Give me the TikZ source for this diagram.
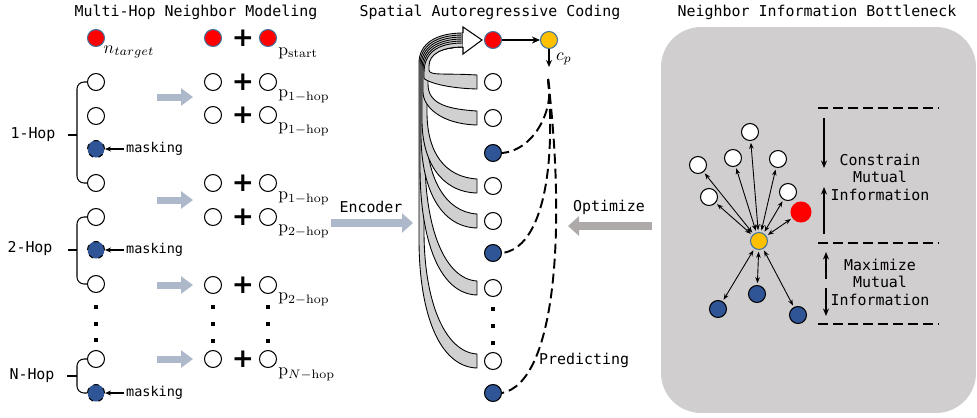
\documentclass[tikz,border=0pt]{standalone}
\usepackage{amsmath}
\usepackage{fontspec}
\setmonofont{DejaVu Sans Mono}
\setsansfont{DejaVu Sans}
\usepackage{tikz}
\usetikzlibrary{arrows.meta}

\definecolor{nred}{HTML}{FF0000}
\definecolor{nyellow}{HTML}{FFC000}
\definecolor{nblue}{HTML}{2F5597}
\definecolor{edgeblue}{HTML}{41719C}
\definecolor{panelgray}{HTML}{D0CECE}
\definecolor{bandgray}{HTML}{D0D0D0}
\definecolor{encblue}{HTML}{ADB9CA}
\definecolor{optgray}{HTML}{AEAAAA}

\begin{document}
\begin{tikzpicture}[x=0.02cm,y=-0.02cm]
		\tikzstyle{lbl} = [font=\fontsize{8.5}{10}\selectfont\ttfamily, inner sep=1pt]
		\tikzstyle{msk} = [font=\fontsize{7.7}{9}\selectfont\ttfamily, inner sep=1pt, anchor=west]
		\tikzstyle{wn} = [draw, circle, fill=white, minimum size=0.34cm, inner sep=0pt, line width=0.6pt]
		\tikzstyle{rn} = [wn, fill=nred, draw=edgeblue]
		\tikzstyle{yn} = [wn, fill=nyellow, draw=edgeblue]
		\tikzstyle{bn} = [wn, fill=nblue]
		\tikzstyle{mn} = [bn, dashed]
		\tikzstyle{plus} = [font=\sffamily\bfseries\fontsize{15}{15}\selectfont, inner sep=0pt]
		\tikzstyle{sq} = [fill, rectangle, minimum size=0.08cm, inner sep=0pt]
		\tikzstyle{fat} = [line width=0.14cm, encblue, -{Triangle[length=0.24cm,width=0.34cm]}]
		\tikzstyle{band} = [draw, fill=bandgray, line width=0.5pt]
		\tikzstyle{bi} = [{Stealth[length=0.12cm,width=0.09cm]}-{Stealth[length=0.12cm,width=0.09cm]}, line width=0.5pt, shorten <=1pt, shorten >=1pt]
		\tikzstyle{vert} = [-{Stealth[length=0.15cm,width=0.12cm]}, line width=1pt]
		\tikzstyle{dline} = [line width=1.1pt, dash pattern=on 0.2cm off 0.1cm]
		\useasboundingbox (0,0) rectangle (977,417);

		% titles
		\node [lbl] (t1) at (196,12) {Multi-Hop Neighbor Modeling};
		\node [lbl] (t2) at (490,12) {Spatial Autoregressive Coding};
		\node [lbl] (t3) at (817,12) {Neighbor Information Bottleneck};

		% multi-hop neighbours
		\node [rn] (l0) at (96,38) {};
		\node (nt) at (129,52) {$n_{target}$};
		\node [wn] (l1) at (96,82) {};
		\node [wn] (l2) at (96,116) {};
		\node [mn] (l3) at (96,149) {};
		\node [wn] (l4) at (96,183) {};
		\node [wn] (l5) at (96,217) {};
		\node [mn] (l6) at (96,250) {};
		\node [wn] (l7) at (96,284) {};
		\node [sq] (ld1) at (96,307) {};
		\node [sq] (ld2) at (96,324) {};
		\node [sq] (ld3) at (96,340) {};
		\node [wn] (l8) at (96,359) {};
		\node [mn] (l9) at (96,393) {};

		\node [msk] (m1) at (124,149) {masking};
		\node [msk] (m2) at (124,250) {masking};
		\node [msk] (m3) at (124,393) {masking};
		\draw[-{Stealth[length=0.12cm,width=0.1cm]}, line width=0.7pt] (m1) -- (l3);
		\draw[-{Stealth[length=0.12cm,width=0.1cm]}, line width=0.7pt] (m2) -- (l6);
		\draw[-{Stealth[length=0.12cm,width=0.1cm]}, line width=0.7pt] (m3) -- (l9);

		\node [lbl] (h1) at (33,135) {1-Hop};
		\node [lbl] (h2) at (30,249) {2-Hop};
		\node [lbl] (h3) at (32,376) {N-Hop};
		\draw[rounded corners=4, line width=0.6pt] (l1.west) -- (77,82) -- (77,183) -- (l4.west);
		\draw[line width=0.6pt] (77,135) -- (68,135);
		\draw[rounded corners=4, line width=0.6pt] (l5.west) -- (77,217) -- (77,284) -- (l7.west);
		\draw[line width=0.6pt] (77,250) -- (68,250);
		\draw[rounded corners=4, line width=0.6pt] (l8.west) -- (77,359) -- (77,393) -- (l9.west);
		\draw[line width=1.2pt] (77,376) -- (67,376);

		% pairs
		\node [rn] (a0) at (213,38) {};
		\node [plus] (s0) at (243,38) {+};
		\node [rn] (b0) at (268,38) {};
		\node [anchor=west, inner sep=0pt] (p0) at (278,53) {$\mathrm{p}_{\mathrm{start}}$};
		\node [wn] (a1) at (213,82) {};
		\node [plus] (s1) at (243,82) {+};
		\node [wn] (b1) at (268,82) {};
		\node [anchor=west, inner sep=0pt] (p1) at (278,96) {$\mathrm{p}_{1-\mathrm{hop}}$};
		\node [wn] (a2) at (213,115) {};
		\node [plus] (s2) at (243,115) {+};
		\node [wn] (b2) at (268,115) {};
		\node [anchor=west, inner sep=0pt] (p2) at (278,129) {$\mathrm{p}_{1-\mathrm{hop}}$};
		\node [wn] (a3) at (213,183) {};
		\node [plus] (s3) at (243,183) {+};
		\node [wn] (b3) at (268,183) {};
		\node [anchor=west, inner sep=0pt] (p3) at (278,198) {$\mathrm{p}_{1-\mathrm{hop}}$};
		\node [wn] (a4) at (213,217) {};
		\node [plus] (s4) at (243,217) {+};
		\node [wn] (b4) at (268,217) {};
		\node [anchor=west, inner sep=0pt] (p4) at (278,231) {$\mathrm{p}_{2-\mathrm{hop}}$};
		\node [wn] (a5) at (213,285) {};
		\node [plus] (s5) at (243,285) {+};
		\node [wn] (b5) at (268,285) {};
		\node [anchor=west, inner sep=0pt] (p5) at (278,299) {$\mathrm{p}_{2-\mathrm{hop}}$};
		\node [sq] (ad1) at (213,307) {};
		\node [sq] (ad2) at (213,324) {};
		\node [sq] (ad3) at (213,341) {};
		\node [sq] (bd1) at (268,307) {};
		\node [sq] (bd2) at (268,324) {};
		\node [sq] (bd3) at (268,341) {};
		\node [wn] (a6) at (213,359) {};
		\node [plus] (s6) at (243,359) {+};
		\node [wn] (b6) at (268,359) {};
		\node [anchor=west, inner sep=0pt] (p6) at (278,374) {$\mathrm{p}_{N-\mathrm{hop}}$};

		\coordinate (g1) at (157,97);  \coordinate (g1e) at (193,97);
		\coordinate (g2) at (157,200); \coordinate (g2e) at (193,200);
		\coordinate (g3) at (157,285); \coordinate (g3e) at (193,285);
		\coordinate (g4) at (157,359); \coordinate (g4e) at (193,359);
		\draw[fat] (g1) -- (g1e);
		\draw[fat] (g2) -- (g2e);
		\draw[fat] (g3) -- (g3e);
		\draw[fat] (g4) -- (g4e);

		% encoder / optimize
		\node [lbl] (enc) at (371,207) {Encoder};
		\coordinate (e1) at (331,223); \coordinate (e2) at (413,223);
		\draw[line width=0.16cm, encblue, -{Triangle[length=0.22cm,width=0.38cm]}] (e1) -- (e2);
		\node [lbl] (opt) at (609,207) {Optimize};
		\coordinate (o1) at (652,226); \coordinate (o2) at (568,226);
		\draw[line width=0.16cm, optgray, -{Triangle[length=0.22cm,width=0.38cm]}] (o1) -- (o2);

		% curved bands into the target
		\draw[band] (477,354) .. controls (445,352) and (424,302) .. (424,231) -- (424,66) .. controls (424,54) and (442,47) .. (463,47) -- (463,33) .. controls (437,33) and (419,43) .. (419,63) -- (419,239) .. controls (419,315) and (440,367) .. (477,368) -- cycle;
		\draw[band] (477,281) .. controls (445,279) and (425,229) .. (425,158) -- (425,66) .. controls (425,54) and (442,47) .. (463,47) -- (463,35) .. controls (437,35) and (420,45) .. (420,65) -- (420,166) .. controls (420,242) and (440,294) .. (477,295) -- cycle;
		\draw[band] (477,214) .. controls (445,212) and (426,178) .. (426,126) -- (426,66) .. controls (426,54) and (442,47) .. (463,47) -- (463,37) .. controls (437,37) and (421,47) .. (421,67) -- (421,134) .. controls (421,188) and (440,227) .. (477,228) -- cycle;
		\draw[band] (477,179) .. controls (445,177) and (427,153) .. (427,112) -- (427,66) .. controls (427,54) and (442,47) .. (463,47) -- (463,39) .. controls (437,39) and (422,49) .. (422,69) -- (422,120) .. controls (422,160) and (440,192) .. (477,193) -- cycle;
		\draw[band] (477,111) .. controls (445,109) and (428,103) .. (428,84) -- (428,66) .. controls (428,54) and (442,47) .. (463,47) -- (463,41) .. controls (437,41) and (423,51) .. (423,71) -- (423,92) .. controls (423,106) and (440,124) .. (477,125) -- cycle;
		\draw[band] (477,75) .. controls (445,73) and (429,76) .. (429,70) -- (429,66) .. controls (429,54) and (442,47) .. (463,47) -- (463,43) .. controls (437,43) and (424,53) .. (424,73) -- (424,78) .. controls (424,80) and (440,88) .. (477,89) -- cycle;
		\draw[fill=white, line width=0.6pt] (463,33) -- (463,27) -- (482,40) -- (463,54) -- (463,47);

		% autoregressive column
		\node [rn] (c0) at (493,40) {};
		\node [yn] (cy) at (549,40) {};
		\node [wn] (c1) at (493,82) {};
		\node [wn] (c2) at (493,118) {};
		\node [bn] (c3) at (493,153) {};
		\node [wn] (c4) at (493,186) {};
		\node [wn] (c5) at (493,221) {};
		\node [bn] (c6) at (493,253) {};
		\node [wn] (c7) at (493,288) {};
		\node [sq] (cd1) at (493,309) {};
		\node [sq] (cd2) at (493,326) {};
		\node [sq] (cd3) at (493,343) {};
		\node [wn] (c8) at (493,361) {};
		\node [bn] (c9) at (493,393) {};

		\draw[-{Stealth[length=0.16cm,width=0.14cm]}, line width=1.4pt] (c0) -- (cy);
		\coordinate (cp) at (549,67);
		\draw[-{Stealth[length=0.14cm,width=0.12cm]}, line width=1.1pt] (cy) -- (cp);
		\node (cpl) at (564,59) {$c_p$};
		\coordinate (ds) at (548,79);
		\draw[dline] (ds) .. controls (555,108) and (535,150) .. (c3.east);
		\draw[dline] (ds) .. controls (556,170) and (542,248) .. (c6.east);
		\draw[dline] (ds) .. controls (566,230) and (556,382) .. (c9.east);
		\node [lbl, anchor=west] (pred) at (537,360) {Predicting};

		% information bottleneck panel
		\node [fill=panelgray, rounded corners=0.8cm, minimum width=6.3cm, minimum height=7.72cm] (nib) at (818.5,220) {};
		\node [yn] (ny) at (759,241) {};
		\node [wn, fill=nred, draw=nred, minimum size=0.4cm] (nr) at (801,212) {};
		\node [wn] (w1) at (750,132) {};
		\node [wn] (w2) at (698,165) {};
		\node [wn] (w3) at (733,158) {};
		\node [wn] (w4) at (778,159) {};
		\node [wn] (w5) at (709,197) {};
		\node [wn] (w6) at (788,192) {};
		\node [bn] (nb1) at (718,309) {};
		\node [bn] (nb2) at (757,294) {};
		\node [bn] (nb3) at (798,315) {};
		\draw[bi] (ny) -- (w1);
		\draw[bi] (ny) -- (w2);
		\draw[bi] (ny) -- (w3);
		\draw[bi] (ny) -- (w4);
		\draw[bi] (ny) -- (w5);
		\draw[bi] (ny) -- (w6);
		\draw[bi] (ny) -- (nr);
		\draw[bi] (ny) -- (nb1);
		\draw[bi] (ny) -- (nb2);
		\draw[bi] (ny) -- (nb3);

		\coordinate (h1a) at (818,108); \coordinate (h1b) at (938,108);
		\coordinate (h2a) at (818,243); \coordinate (h2b) at (938,243);
		\coordinate (h3a) at (818,324); \coordinate (h3b) at (938,324);
		\draw[dline] (h1a) -- (h1b);
		\draw[dline] (h2a) -- (h2b);
		\draw[dline] (h3a) -- (h3b);
		\coordinate (v1) at (824,118); \coordinate (v1e) at (824,168);
		\coordinate (v2) at (824,234); \coordinate (v2e) at (824,187);
		\coordinate (v3) at (826,279); \coordinate (v3e) at (826,252);
		\coordinate (v4) at (826,288); \coordinate (v4e) at (826,316);
		\draw[vert] (v1) -- (v1e);
		\draw[vert] (v2) -- (v2e);
		\draw[vert] (v3) -- (v3e);
		\draw[vert] (v4) -- (v4e);
		\node [lbl, align=center] (cmi) at (880,177) {Constrain\\Mutual\\Information};
		\node [lbl, align=center] (mmi) at (880,282) {Maximize\\Mutual\\Information};
	\end{tikzpicture}
\end{document}
